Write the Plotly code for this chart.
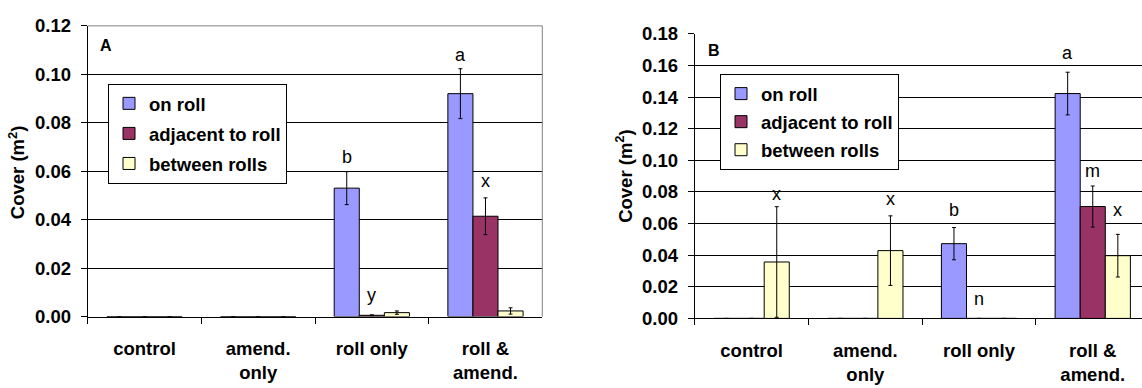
import plotly.graph_objects as go

categories = ["control", "amend.<br>only", "roll only", "roll &<br>amend."]
series_names = ["on roll", "adjacent to roll", "between rolls"]
series_colors = ["#9999FF", "#993366", "#FFFFCC"]

# Panel A values
a_on = [0, 0, 0.0530, 0.0920]
a_on_err = [0, 0, 0.0068, 0.0103]
a_adj = [0, 0, 0.0005, 0.0414]
a_adj_err = [0, 0, 0.0002, 0.0076]
a_btw = [0, 0, 0.0016, 0.0023]
a_btw_err = [0, 0, 0.0007, 0.0013]

# Panel B values
b_on = [0, 0, 0.0473, 0.1423]
b_on_err = [0, 0, 0.0102, 0.0135]
b_adj = [0, 0, 0, 0.0708]
b_adj_err = [0, 0, 0, 0.0130]
b_btw = [0.0357, 0.0429, 0, 0.0397]
b_btw_err = [0.0350, 0.0220, 0, 0.0135]

# significance letters: (category index, series index, letter, height)
a_letters = [(2, 0, "b", 0.0658), (2, 1, "y", 0.0090), (3, 0, "a", 0.1081), (3, 1, "x", 0.0560)]
b_letters = [(0, 2, "x", 0.0788), (1, 2, "x", 0.0753), (2, 0, "b", 0.0689), (2, 1, "n", 0.0126),
             (3, 0, "a", 0.1677), (3, 1, "m", 0.0932), (3, 2, "x", 0.0689)]

W, H = 1142, 388
FONT = "Liberation Sans, Arial, sans-serif"
BARGAP = 0.338
barw = (1 - BARGAP) / 3

def px(xpix):
    return xpix / W

def py(ypix):
    return 1 - ypix / H

fig = go.Figure()

panelA = [(a_on, a_on_err), (a_adj, a_adj_err), (a_btw, a_btw_err)]
panelB = [(b_on, b_on_err), (b_adj, b_adj_err), (b_btw, b_btw_err)]

for i, (vals, errs) in enumerate(panelA):
    fig.add_trace(go.Bar(
        x=categories, y=vals, name=series_names[i], xaxis="x", yaxis="y",
        marker=dict(color=series_colors[i], line=dict(color="black", width=1)),
        error_y=dict(type="data", array=errs, color="black", thickness=1, width=2),
        legend="legend", legendgroup="a%d" % i))
for i, (vals, errs) in enumerate(panelB):
    fig.add_trace(go.Bar(
        x=categories, y=vals, name=series_names[i], xaxis="x2", yaxis="y2",
        marker=dict(color=series_colors[i], line=dict(color="black", width=1)),
        error_y=dict(type="data", array=errs, color="black", thickness=1, width=2),
        legend="legend2", legendgroup="b%d" % i))

tickfont = dict(family=FONT, size=18.5, color="black", weight="bold")

def xaxis_cfg(domain, rng, anchor):
    return dict(domain=domain, type="category", range=rng, showline=True, linecolor="black",
                linewidth=1, ticks="outside", tickson="boundaries", ticklen=6, tickcolor="black",
                tickfont=tickfont, showgrid=False, ticklabelstandoff=15, fixedrange=True,
                anchor=anchor)

def yaxis_cfg(domain, rng, anchor):
    return dict(domain=domain, range=rng, dtick=0.02, tickformat=".2f", showline=True,
                linecolor="black", linewidth=1, ticks="outside", ticklen=6, tickcolor="black",
                tickfont=tickfont, showgrid=True, gridcolor="black", gridwidth=1,
                zeroline=False, anchor=anchor, ticklabelstandoff=6, fixedrange=True)

# panel A: plot area 87.7..542.3 px, 15.7..323 px
xA = [px(87.7), px(542.3)]
yA = [py(323), py(15.7)]
# panel B: plot area 694.8..(1149.6, cut by page edge), 24.3..325 px
xB = [px(694.8), 1.0]
yB = [py(325), py(24.3)]
b_right = -0.5 + 4 * (W - 694.8) / (1149.6 - 694.8)

legend_font = dict(family=FONT, size=18.5, color="black", weight="bold")
fig.update_layout(
    width=W, height=H, margin=dict(l=0, r=0, t=0, b=0),
    paper_bgcolor="white", plot_bgcolor="white",
    barmode="group", bargap=BARGAP, bargroupgap=0,
    xaxis=xaxis_cfg(xA, [-0.5, 3.5], "y"),
    yaxis=yaxis_cfg(yA, [0, 0.12], "x"),
    xaxis2=xaxis_cfg(xB, [-0.5, b_right], "y2"),
    yaxis2=yaxis_cfg(yB, [0, 0.18], "x2"),
    legend=dict(x=px(108), y=py(77), xanchor="left", yanchor="top", bgcolor="white",
                bordercolor="black", borderwidth=1, font=legend_font, tracegroupgap=3,
                itemwidth=30),
    legend2=dict(x=px(720), y=py(66.7), xanchor="left", yanchor="top", bgcolor="white",
                 bordercolor="black", borderwidth=1, font=legend_font, tracegroupgap=1,
                 itemwidth=30),
    showlegend=True,
)

# gray plot-area border of panel A (top and right)
for (x0, x1, y0, y1) in [(0, 1, 1, 1), (1, 1, 0, 1)]:
    fig.add_shape(type="line", xref="x domain", yref="y domain", x0=x0, x1=x1, y0=y0, y1=y1,
                  line=dict(color="#808080", width=1))

annots = []
offsets = [-barw, 0, barw]
letter_font = dict(family=FONT, size=18, color="black")
for (ci, si, txt, yv) in a_letters:
    annots.append(dict(x=ci + offsets[si], y=yv, xref="x", yref="y", text=txt, showarrow=False,
                       font=letter_font, xanchor="center", yanchor="middle"))
for (ci, si, txt, yv) in b_letters:
    annots.append(dict(x=ci + offsets[si], y=yv, xref="x2", yref="y2", text=txt, showarrow=False,
                       font=letter_font, xanchor="center", yanchor="middle"))
# panel letters
panel_font = dict(family=FONT, size=16, color="black", weight="bold")
annots.append(dict(x=px(106.3), y=py(36), xref="paper", yref="paper", text="A", showarrow=False,
                   font=panel_font, xanchor="center", yanchor="middle"))
annots.append(dict(x=px(713.7), y=py(41.7), xref="paper", yref="paper", text="B", showarrow=False,
                   font=panel_font, xanchor="center", yanchor="middle"))
# axis titles
for (xp, yp) in [(16.4, 170), (623.8, 174.5)]:
    annots.append(dict(x=px(xp), y=py(yp), xref="paper", yref="paper", text="Cover (m<sup>2</sup>)",
                       textangle=-90, showarrow=False, xanchor="center", yanchor="middle",
                       font=dict(family=FONT, size=18.5, color="black", weight="bold")))
fig.update_layout(annotations=annots)

fig.write_html("out.html")
